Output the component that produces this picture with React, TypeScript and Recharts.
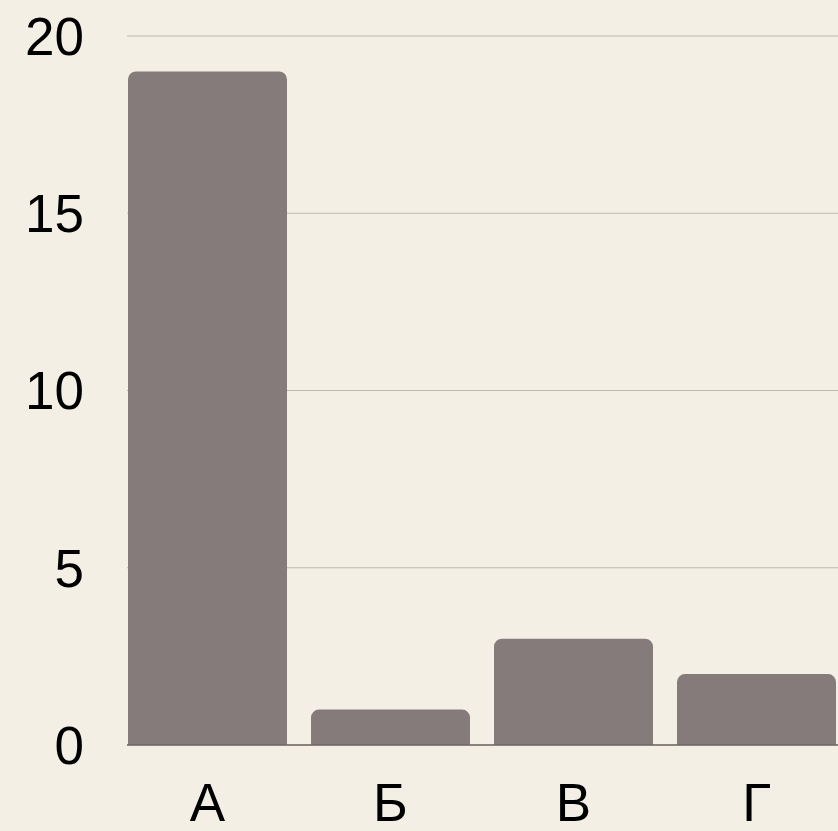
import React from "react";
import { BarChart, Bar, XAxis, YAxis, CartesianGrid } from "recharts";

const categories = ["А", "Б", "В", "Г"];
const values = [19, 1, 3, 2];
const yTicks = [0, 5, 10, 15, 20];

const data = categories.map((name, i) => ({ name, value: values[i] }));

const font = "'Liberation Sans', Arial, sans-serif";

export default function App() {
  return (
    <div
      style={{
        position: "absolute",
        left: 0,
        top: 0,
        width: 838,
        height: 831,
        overflow: "hidden",
        background: "#F3EFE4",
      }}
    >
      <BarChart
        width={838}
        height={831}
        data={data}
        margin={{ top: 36, right: 0, left: 0, bottom: 0 }}
        barCategoryGap={12}
      >
        <CartesianGrid vertical={false} stroke="#BEB9B0" strokeWidth={1} />
        <XAxis
          dataKey="name"
          height={86}
          padding={{ left: -11, right: -10 }}
          axisLine={{ stroke: "#6E6767", strokeWidth: 1.5 }}
          tickLine={false}
          tickSize={0}
          tickMargin={38}
          tick={{ fill: "#000", fontSize: 53, fontFamily: font }}
          interval={0}
        />
        <YAxis
          width={127}
          domain={[0, 20]}
          ticks={yTicks}
          axisLine={false}
          tickLine={false}
          tickSize={0}
          tickMargin={43}
          tick={{ fill: "#000", fontSize: 53, fontFamily: font }}
        />
        <Bar
          dataKey="value"
          fill="#857B7B"
          radius={[8, 8, 0, 0]}
          isAnimationActive={false}
        />
      </BarChart>
    </div>
  );
}
